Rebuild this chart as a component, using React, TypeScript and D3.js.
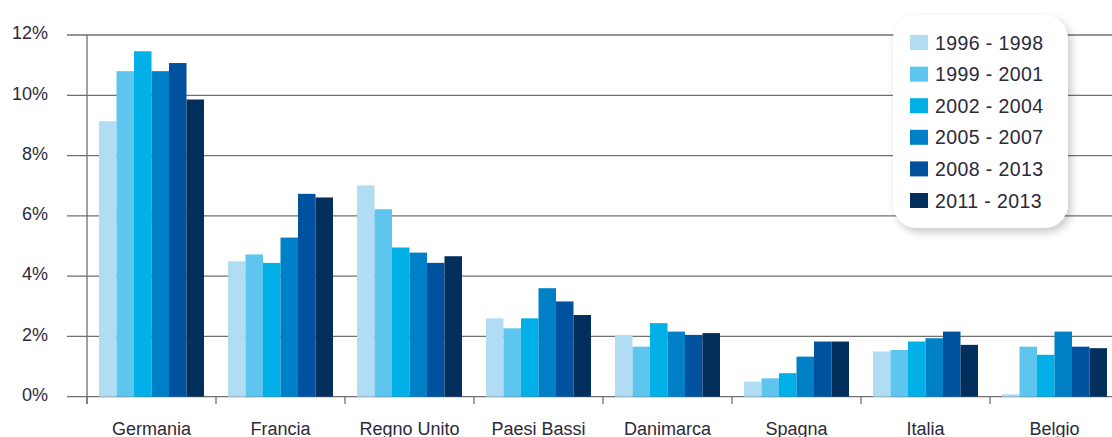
import React from "react";
import * as d3 from "d3";

// Chart data
const countries = ["Germania", "Francia", "Regno Unito", "Paesi Bassi", "Danimarca", "Spagna", "Italia", "Belgio"];
const periods = ["1996 - 1998", "1999 - 2001", "2002 - 2004", "2005 - 2007", "2008 - 2013", "2011 - 2013"];
const colors = ["#b0ddf4", "#5ec6ee", "#00b0e6", "#0080c6", "#00529e", "#032f5c"];

// values in %, one array per period, in country order
const v1996 = [9.14, 4.49, 7.01, 2.6, 2.05, 0.5, 1.5, 0.08];
const v1999 = [10.8, 4.72, 6.22, 2.27, 1.66, 0.61, 1.55, 1.66];
const v2002 = [11.46, 4.44, 4.95, 2.6, 2.44, 0.78, 1.83, 1.39];
const v2005 = [10.8, 5.28, 4.78, 3.6, 2.16, 1.33, 1.94, 2.16];
const v2008 = [11.07, 6.73, 4.44, 3.16, 2.05, 1.83, 2.16, 1.66];
const v2011 = [9.86, 6.61, 4.66, 2.71, 2.11, 1.83, 1.72, 1.61];
const series = [v1996, v1999, v2002, v2005, v2008, v2011];

const yTicks = [0, 2, 4, 6, 8, 10, 12];

const W = 1112;
const H = 437;
const font = "'Liberation Sans', Arial, sans-serif";

export default function App() {
  const x0 = d3
    .scaleBand<string>()
    .domain(countries)
    .range([87, 1119])
    .paddingInner(0.186)
    .paddingOuter(0.093);
  const x1 = d3
    .scaleBand<string>()
    .domain(periods)
    .range([0, x0.bandwidth()]);
  const y = d3.scaleLinear().domain([0, 12]).range([396.7, 35]);

  const step = x0.step();
  const boundaries = countries.map((c) => (x0(c) as number) - (step * x0.paddingInner()) / 2);
  boundaries.push(boundaries[boundaries.length - 1] + step);

  const gridColor = "#707070";

  // legend layout
  const lg = { x: 893, y: 15, w: 175, h: 213, rowH: 31.6 };

  return (
    <svg
      width={W}
      height={H}
      style={{ position: "absolute", left: 0, top: 0, background: "#fff" }}
    >
      <defs>
        <filter id="shadow" x="-20%" y="-20%" width="140%" height="140%">
          <feDropShadow dx="3" dy="4" stdDeviation="4" floodColor="#000" floodOpacity="0.22" />
        </filter>
      </defs>

      {/* gridlines */}
      {yTicks.map((t) => (
        <line key={t} x1={67} x2={W} y1={y(t)} y2={y(t)} stroke={gridColor} strokeWidth={1.3} />
      ))}

      {/* y tick labels */}
      {yTicks.map((t) => (
        <text
          key={"l" + t}
          x={48}
          y={y(t) - 2}
          dy="0.35em"
          textAnchor="end"
          fontFamily={font}
          fontSize={18}
          fill="#2a2a3a"
        >
          {t}%
        </text>
      ))}

      {/* bars */}
      {countries.map((c, ci) => (
        <g key={c} transform={`translate(${x0(c)},0)`}>
          {periods.map((p, pi) => (
            <rect
              key={p}
              x={x1(p)}
              y={y(series[pi][ci])}
              width={x1.bandwidth()}
              height={y(0) - y(series[pi][ci])}
              fill={colors[pi]}
            />
          ))}
        </g>
      ))}

      {/* y axis line */}
      <line x1={87} x2={87} y1={35} y2={404} stroke={gridColor} strokeWidth={1.3} />

      {/* x ticks */}
      {boundaries.map((b, i) => (
        <line key={"t" + i} x1={b} x2={b} y1={y(0)} y2={404} stroke={gridColor} strokeWidth={1.3} />
      ))}

      {/* category labels */}
      {countries.map((c) => (
        <text
          key={"c" + c}
          x={(x0(c) as number) + x0.bandwidth() / 2}
          y={435}
          textAnchor="middle"
          fontFamily={font}
          fontSize={18}
          fill="#2a2a3a"
        >
          {c}
        </text>
      ))}

      {/* legend */}
      <g>
        <rect
          x={lg.x}
          y={lg.y}
          width={lg.w}
          height={lg.h}
          rx={24}
          fill="#fff"
          filter="url(#shadow)"
        />
        {periods.map((p, i) => (
          <g key={"lg" + p} transform={`translate(910,${35 + i * lg.rowH})`}>
            <rect width={18} height={15} fill={colors[i]} />
            <text
              x={25}
              y={7.5}
              dy="0.36em"
              fontFamily={font}
              fontSize={19.5}
              letterSpacing={0.4}
              fill="#2a2a3a"
            >
              {p}
            </text>
          </g>
        ))}
      </g>
    </svg>
  );
}
